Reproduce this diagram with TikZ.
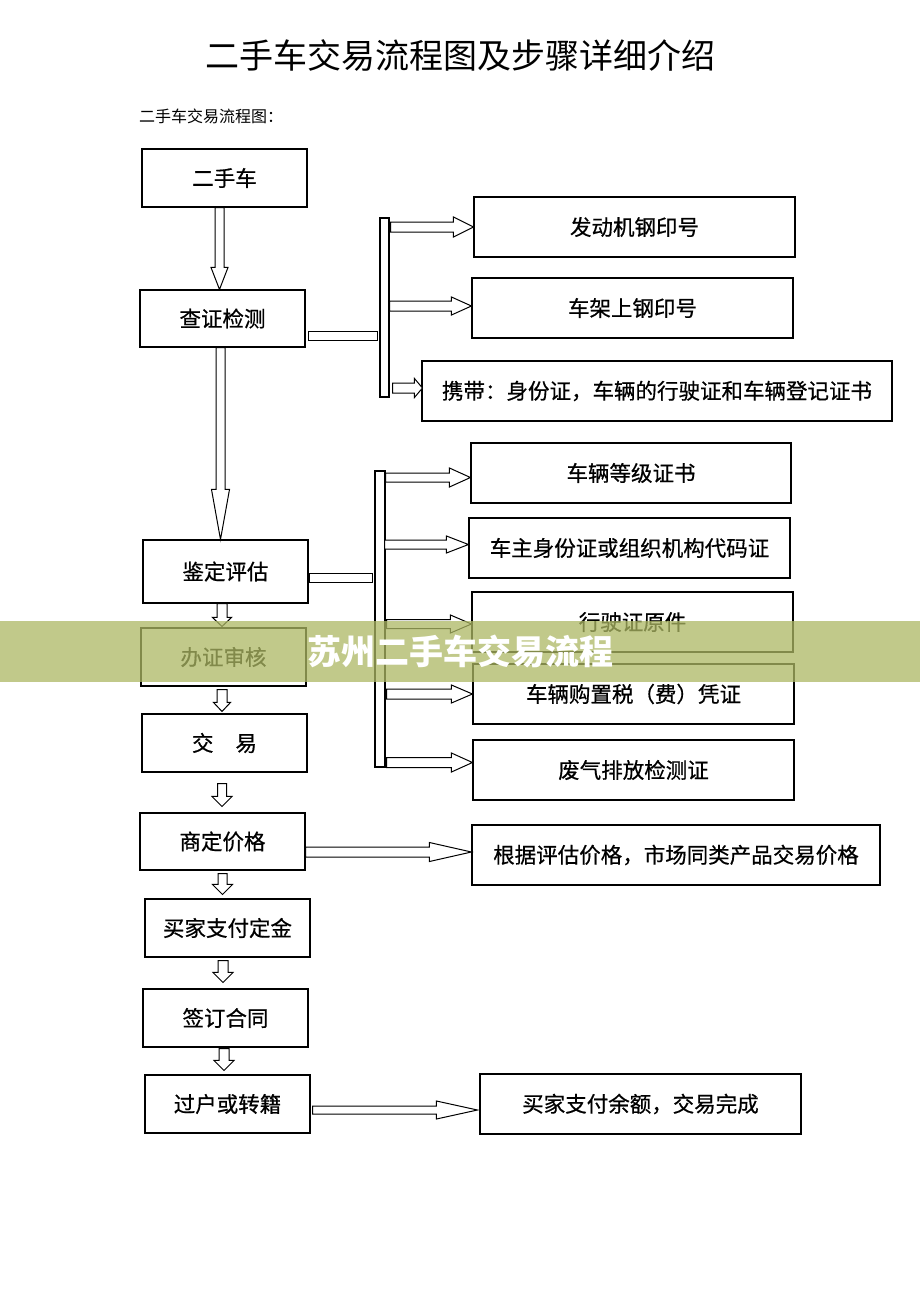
\documentclass[tikz,border=0pt]{standalone}
\usepackage{fontspec}
\setmainfont{Noto Sans CJK SC}
\newfontfamily\boxfont{Noto Sans CJK SC}[FakeBold=0.6]
\usetikzlibrary{calc}
\definecolor{bannerc}{RGB}{173,184,100}
\newcommand\harr[5]{% start, end, shaft half, head half, head length
  \draw[blk] let \p1=(#1), \p2=(#2) in
    (\x1,\y1+#3pt) -- (\x2-#5pt,\y1+#3pt) -- (\x2-#5pt,\y1+#4pt) -- (\x2,\y1)
    -- (\x2-#5pt,\y1-#4pt) -- (\x2-#5pt,\y1-#3pt) -- (\x1,\y1-#3pt) -- cycle;}
\newcommand\varr[6]{% x, start, end, shaft half, head half, head length
  \draw[blk] let \p1=(#2), \p2=(#3) in
    (#1pt-#4pt,\y1) -- (#1pt-#4pt,\y2+#6pt) -- (#1pt-#5pt,\y2+#6pt) -- (#1pt,\y2)
    -- (#1pt+#5pt,\y2+#6pt) -- (#1pt+#4pt,\y2+#6pt) -- (#1pt+#4pt,\y1) -- cycle;}
\begin{document}
\begin{tikzpicture}[x=1pt,y=-1pt,
  box/.style={draw, line width=1.1pt, inner sep=0pt, minimum width=165pt, minimum height=58pt,
    font=\boxfont\fontsize{21.5}{24}\selectfont},
  rbox/.style={box, minimum width=321pt, minimum height=60pt},
  bar/.style={draw, line width=1.1pt, fill=white, inner sep=0pt},
  blk/.style={draw, line width=1pt, fill=white, line join=miter},
  ]
\useasboundingbox[fill=white] (0,0) rectangle (920,1302);

\node[font=\fontsize{34}{38}\selectfont] (title) at (460,56) {二手车交易流程图及步骤详细介绍};
\node[anchor=west, font=\fontsize{16}{18}\selectfont, inner sep=0pt] (sub) at (139,116) {二手车交易流程图：};

% left column
\node[box] (n1) at (224.5,178) {二手车};
\node[box, minimum height=57pt] (n2) at (222.5,318.5) {查证检测};
\node[box, minimum height=63pt] (n3) at (225.5,571.5) {鉴定评估};
\node[box] (n4) at (223.5,657) {办证审核};
\node[box] (n5) at (224.5,743) {交\hspace{22pt}易};
\node[box, minimum height=57pt] (n6) at (222.5,841.5) {商定价格};
\node[box] (n7) at (227.5,928) {买家支付定金};
\node[box] (n8) at (225.5,1018) {签订合同};
\node[box] (n9) at (227.5,1104) {过户或转籍};

% right column
\node[rbox] (rA) at (634.5,227) {发动机钢印号};
\node[rbox] (rB) at (632.5,308) {车架上钢印号};
\node[rbox, minimum width=470pt] (rC) at (657,391) {携带：身份证，车辆的行驶证和车辆登记证书};
\node[rbox, minimum width=320pt] (rD) at (631,473) {车辆等级证书};
\node[rbox] (rE) at (629.5,548) {车主身份证或组织机构代码证};
\node[rbox] (rF) at (632.5,622) {行驶证原件};
\node[rbox] (rG) at (633.5,694) {车辆购置税（费）凭证};
\node[rbox] (rH) at (633.5,770) {废气排放检测证};
\node[rbox, minimum width=408pt] (rI) at (676,855) {根据评估价格，市场同类产品交易价格};
\node[rbox] (rJ) at (640.5,1104) {买家支付余额，交易完成};

% bars
\node[bar, minimum width=9pt, minimum height=179pt] (b1) at (384.5,307.5) {};
\node[bar, minimum width=10pt, minimum height=296pt] (b2) at (380,619) {};
\draw[blk] ($(n2.east)+(3,12.5)$) rectangle ($(b1.west)+(-2,32.5)$);
\draw[blk] ($(n3.east)+(1,1.5)$) rectangle ($(b2.west)+(-2,-37)$);

% arrows from bar 1
\harr{$(b1.east |- rA.west)+(1,0)$}{rA.west}{5}{10}{20}
\harr{$(b1.east |- rB.west)+(0,-2)$}{$(rB.west)+(0,-2)$}{5}{9}{20}
\harr{$(b1.east |- rC.west)+(3,-3)$}{$(rC.west)+(1,-3)$}{5}{9.5}{8}
% arrows from bar 2
\harr{$(b2.east |- rD.west)+(0,4.5)$}{$(rD.west)+(0,4.5)$}{4.5}{9.5}{21}
\harr{$(b2.east |- rE.west)+(-1,-3.5)$}{$(rE.west)+(0,-3.5)$}{4.5}{8.5}{22}
\harr{$(b2.east |- rF.west)+(1,2)$}{$(rF.west)+(0,2)$}{4.5}{9}{21}
\harr{$(b2.east |- rG.west)+(1,0)$}{rG.west}{5}{9}{21}
\harr{$(b2.east |- rH.west)+(1,-7.5)$}{$(rH.west)+(0,-7.5)$}{5}{9.5}{21}
% horizontal arrows from left column
\harr{$(n6.east)+(0,10.5)$}{$(rI.west)+(0,-3)$}{5}{9.5}{42}
\harr{$(n9.east)+(2,6)$}{$(rJ.west)+(-2,6)$}{4}{9}{41}

% vertical arrows
\varr{219.5}{n1.south}{n2.north}{4.5}{8.5}{22}
\varr{220.5}{n2.south}{n3.north}{4.5}{9}{50}
\varr{222}{n3.south}{$(n4.north)+(0,-1)$}{5}{9.5}{9}
\varr{222}{$(n4.south)+(0,3)$}{$(n5.north)+(0,-2)$}{5}{8.5}{9}
\varr{222}{$(n5.south)+(0,11)$}{$(n6.north)+(0,-6)$}{4.5}{10}{10}
\varr{222.5}{$(n6.south)+(0,3)$}{$(n7.north)+(0,-4)$}{4.5}{10}{10}
\varr{223}{$(n7.south)+(0,3)$}{$(n8.north)+(0,-6)$}{5}{10}{10}
\varr{224}{$(n8.south)+(0,1)$}{$(n9.north)+(0,-4)$}{5}{10}{10}

% banner
\fill[bannerc, opacity=0.75] (0,621) rectangle (920,682);
\node[text=white, font=\fontsize{34}{38}\selectfont\bfseries] (banner) at (460,651.5) {苏州二手车交易流程};
\end{tikzpicture}
\end{document}
